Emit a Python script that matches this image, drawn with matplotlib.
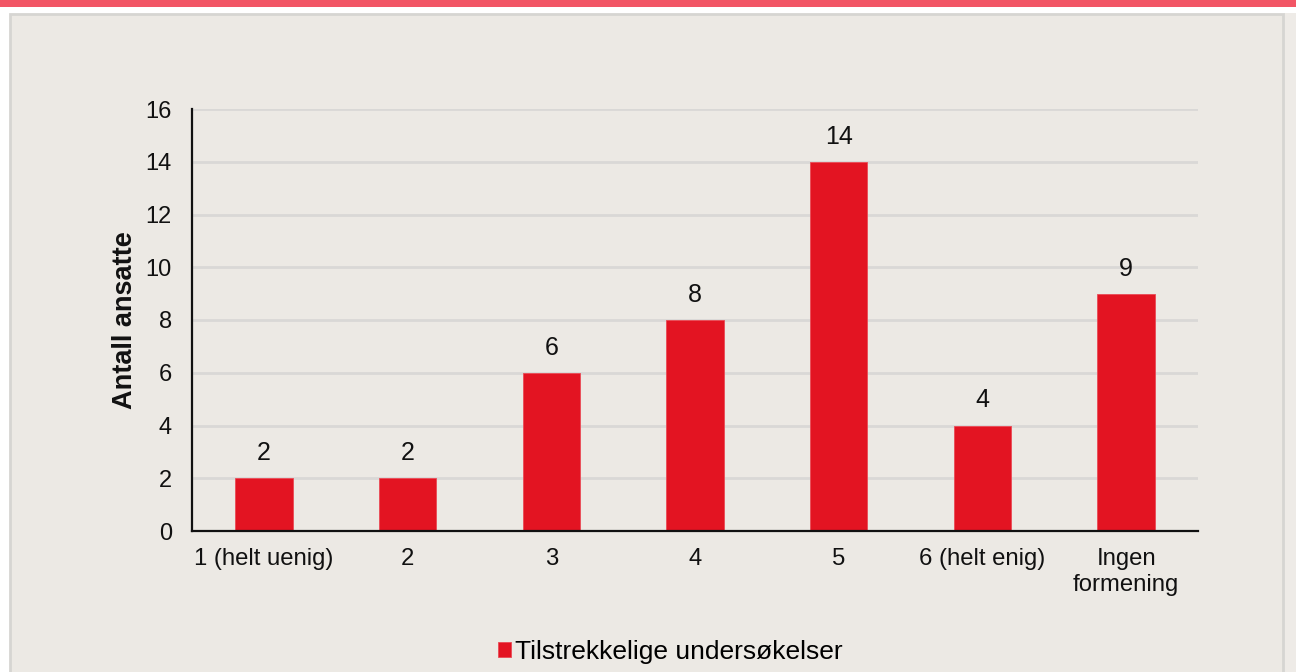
import matplotlib
matplotlib.use("Agg")
import matplotlib.pyplot as plt
from matplotlib.patches import Rectangle

categories = ["1 (helt uenig)", "2", "3", "4", "5", "6 (helt enig)", "Ingen\nformening"]
values = [2, 2, 6, 8, 14, 4, 9]
series_name = "Tilstrekkelige undersøkelser"
y_label = "Antall ansatte"
y_ticks = [0, 2, 4, 6, 8, 10, 12, 14, 16]

plt.rcParams['font.family'] = ['Liberation Sans', 'DejaVu Sans']

W, H = 1296, 672
fig = plt.figure(figsize=(W / 100, H / 100), dpi=100, facecolor="white")

# top stripe
fig.patches.append(Rectangle((0, 1 - 7 / H), 1, 7 / H, transform=fig.transFigure,
                             facecolor="#F25565", edgecolor="none", zorder=-5))
# outer right area
fig.patches.append(Rectangle((1284 / W, 0), 1 - 1284 / W, (H - 13) / H, transform=fig.transFigure,
                             facecolor="#EEEBE7", edgecolor="none", zorder=-5))
# panel
fig.patches.append(Rectangle((10 / W, -0.01), (1283 - 10) / W, (H - 14) / H + 0.01, transform=fig.transFigure,
                             facecolor="#ECE9E4", edgecolor="#D6D5D2", linewidth=2, zorder=-5))

ax = fig.add_axes([192 / W, (H - 531) / H, (1198 - 192) / W, (531 - 109) / H])
ax.set_zorder(5)
ax.set_facecolor("none")

x = list(range(len(categories)))
bars = ax.bar(x, values, width=0.40, color="#E31422", edgecolor="#EA4A55", linewidth=0.6,
              zorder=3, label=series_name)

for xi, v in zip(x, values):
    ax.annotate(str(v), (xi, v), xytext=(0, 13), textcoords="offset points",
                ha="center", va="baseline", fontsize=18, color="#111111")

ax.set_xlim(-0.5, len(categories) - 0.5)
ax.set_ylim(0, 16)
ax.set_yticks(y_ticks)
ax.set_yticklabels([str(t) for t in y_ticks], fontsize=17, color="#111111")
ax.set_xticks(x)
ax.set_xticklabels(categories, fontsize=17.2, color="#111111", linespacing=1.25)
ax.tick_params(axis="both", length=0)
ax.tick_params(axis="y", pad=14.5)
ax.tick_params(axis="x", pad=12)

ax.yaxis.grid(True, color="#D9D8D6", linewidth=2, zorder=0)
ax.set_axisbelow(True)
for s in ["top", "right"]:
    ax.spines[s].set_visible(False)
ax.spines["left"].set_color("#111111")
ax.spines["bottom"].set_color("#111111")
ax.spines["left"].set_linewidth(1.6)
ax.spines["bottom"].set_linewidth(1.6)
ax.spines["left"].set_zorder(4)
ax.spines["bottom"].set_zorder(4)

ax.set_ylabel(y_label, fontsize=19.5, fontweight="bold", color="#111111")
ax.yaxis.set_label_coords((138 - 192) / (1198 - 192), 0.5)

leg = fig.legend(handles=[bars], labels=[series_name], loc="center",
                 bbox_to_anchor=(670 / W, (H - 652) / H), frameon=False, fontsize=19,
                 handlelength=0.5, handleheight=0.5, handletextpad=0.15, borderpad=0)
leg.set_zorder(6)

fig.savefig("out.png", dpi=100, facecolor=fig.get_facecolor())
